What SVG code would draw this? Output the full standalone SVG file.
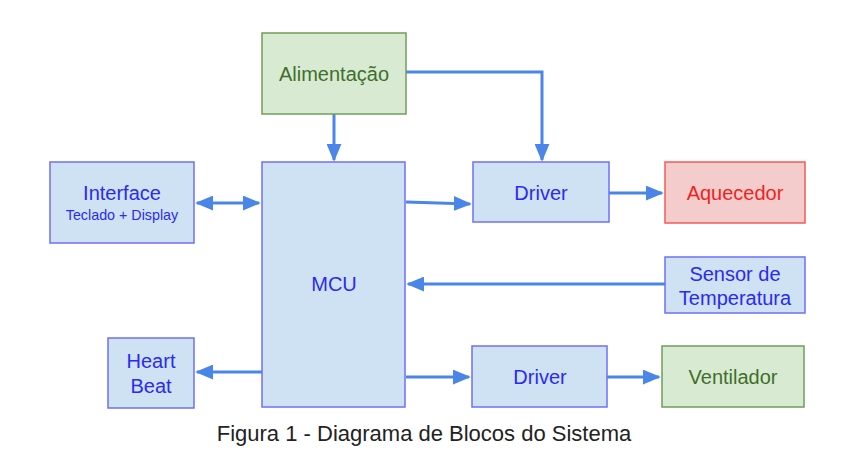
<svg xmlns="http://www.w3.org/2000/svg" width="843" height="450" viewBox="0 0 843 450">
<style>
.b{fill:#cfe2f3;stroke:#6f6ff7;stroke-width:1.5}
.g{fill:#d9ead3;stroke:#6f9e5a;stroke-width:1.5}
.r{fill:#f4cccc;stroke:#f45a5a;stroke-width:1.5}
text{font-family:"Liberation Sans",Arial,sans-serif;text-anchor:middle;font-size:20px}
.tb{fill:#2a2af2}
.tg{fill:#3f6f2a}
.tr{fill:#f21f1f}
.c{fill:none;stroke:#4a86e8;stroke-width:3}
</style>
<defs>
<marker id="ah" viewBox="0 0 10 10" refX="9" refY="5" markerWidth="6" markerHeight="5" orient="auto" markerUnits="strokeWidth" preserveAspectRatio="none">
<path d="M0,0 L10,5 L0,10 z" fill="#4a86e8"/>
</marker>
<marker id="as" viewBox="0 0 10 10" refX="9" refY="5" markerWidth="6" markerHeight="5" orient="auto-start-reverse" markerUnits="strokeWidth" preserveAspectRatio="none">
<path d="M0,0 L10,5 L0,10 z" fill="#4a86e8"/>
</marker>
</defs>
<rect width="843" height="450" fill="#fff"/>
<g id="connectors">
<path class="c" d="M334,114 V160" marker-end="url(#ah)"/>
<path class="c" d="M406,72 H542 V160" marker-end="url(#ah)"/>
<path class="c" d="M197,203 H259" marker-start="url(#as)" marker-end="url(#ah)"/>
<path class="c" d="M406,202 L470,204" marker-end="url(#ah)"/>
<path class="c" d="M609,193 H662" marker-end="url(#ah)"/>
<path class="c" d="M665,284 H408" marker-end="url(#ah)"/>
<path class="c" d="M406,377 H469" marker-end="url(#ah)"/>
<path class="c" d="M607,377 H659" marker-end="url(#ah)"/>
<path class="c" d="M262,372 H197" marker-end="url(#ah)"/>
</g>
<g id="alimentacao"><rect class="g" x="262" y="33" width="144" height="81"/><text class="tg" x="334" y="81">Alimentação</text></g>
<g id="interface"><rect class="b" x="50" y="162" width="144" height="81"/><text class="tb" x="122" y="200">Interface</text><text class="tb" x="122" y="220" style="font-size:14.3px">Teclado + Display</text></g>
<g id="mcu"><rect class="b" x="262" y="162" width="143" height="245"/><text class="tb" x="334" y="291">MCU</text></g>
<g id="driver1"><rect class="b" x="473" y="162" width="136" height="60"/><text class="tb" x="541" y="200">Driver</text></g>
<g id="aquecedor"><rect class="r" x="665" y="162" width="140" height="61"/><text class="tr" x="735" y="200">Aquecedor</text></g>
<g id="sensor"><rect class="b" x="665" y="257" width="140" height="56"/><text class="tb" x="735" y="281">Sensor de</text><text class="tb" x="735" y="305">Temperatura</text></g>
<g id="heartbeat"><rect class="b" x="108" y="338" width="86" height="70"/><text class="tb" x="151" y="368">Heart</text><text class="tb" x="151" y="393">Beat</text></g>
<g id="driver2"><rect class="b" x="472" y="346" width="135" height="61"/><text class="tb" x="540" y="384">Driver</text></g>
<g id="ventilador"><rect class="g" x="662" y="346" width="142" height="61"/><text class="tg" x="733" y="384">Ventilador</text></g>
<text x="424" y="441" style="font-size:22px;fill:#222">Figura 1 - Diagrama de Blocos do Sistema</text>
</svg>
